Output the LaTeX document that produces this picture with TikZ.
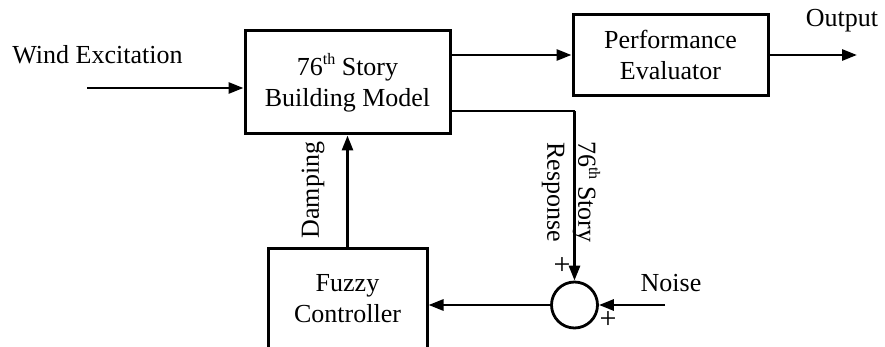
\documentclass[tikz,border=0pt]{standalone}
\usepackage{fontspec}
\setmainfont{Liberation Serif}
\usetikzlibrary{arrows.meta}
\newcommand\ordth{\raisebox{0.42em}{\fontsize{16}{16}\selectfont th}}
\tikzset{
  lbl/.style={font=\fontsize{26}{31}\selectfont, inner sep=0pt, align=center},
  blockbox/.style={lbl, draw, line width=3pt},
  conn/.style={line width=2.8pt, -{Triangle[length=15pt,width=11pt]}},
  plain/.style={line width=2.8pt},
  pluslbl/.style={font=\fontsize{30}{30}\selectfont, inner sep=0pt},
}
\begin{document}
\begin{tikzpicture}[x=1pt,y=-1pt]
\useasboundingbox (0,0) rectangle (885,347);
\clip (0,0) rectangle (885,347);

% blocks
\node[blockbox, minimum width=205pt, minimum height=103pt] (bldg) at (347.5,82.5)
  {76\ordth{} Story\\Building Model};
\node[blockbox, minimum width=195pt, minimum height=81pt] (perf) at (670.5,55)
  {Performance\\Evaluator};
\node[blockbox, minimum width=159pt, minimum height=102pt] (fuzzy) at (347.5,299)
  {Fuzzy\\Controller};
\node[draw, circle, line width=2.8pt, minimum size=46pt, inner sep=0pt] (sum) at (574.5,305) {};

% free ends
\coordinate (windin) at (87,88);
\coordinate (outend) at (857,55);
\coordinate (noisein) at (665,305);
\coordinate (turn) at (574.5,111);

% labels
\node[lbl] (wind) at (97.5,55) {Wind Excitation};
\node[lbl] (outlbl) at (842,21) {Output};
\node[lbl] (noise) at (671,283) {Noise};
\node[lbl, rotate=90] (damp) at (313,190) {Damping};
\node[lbl, rotate=-90] (resp) at (571,192) {76\ordth{} Story\\Response};
\node[pluslbl] (plusa) at (562,266) {+};
\node[pluslbl] (plusb) at (608,320) {+};

% connectors
\draw[conn] (windin) -- (bldg.west |- windin);
\draw[conn] (bldg.east |- perf.west) -- (perf.west);
\draw[conn] (perf.east) -- (outend);
\draw[plain] (bldg.east |- turn) -- (turn);
\draw[conn] (turn) -- (sum.north);
\draw[conn] (noisein) -- (sum.east);
\draw[conn] (sum.west) -- (fuzzy.east |- sum.west);
\draw[conn] (fuzzy.north) -- (bldg.south);
\end{tikzpicture}
\end{document}
